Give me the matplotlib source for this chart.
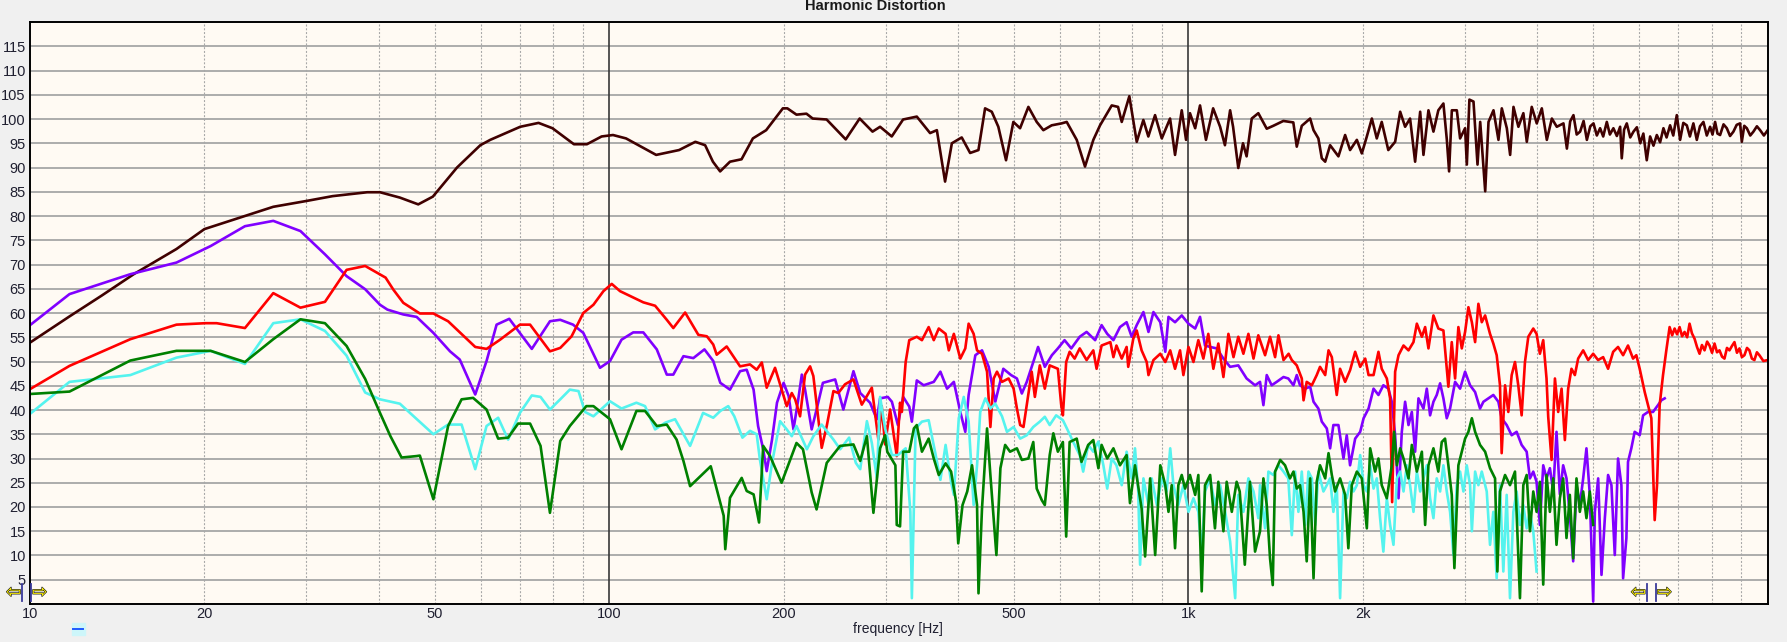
import matplotlib
matplotlib.use("Agg")
import matplotlib.pyplot as plt
import matplotlib.patheffects as pe
from matplotlib.patches import Rectangle
from matplotlib.lines import Line2D
from matplotlib.ticker import NullLocator
from matplotlib.transforms import blended_transform_factory, offset_copy

plt.rcParams['font.family'] = ['Liberation Sans', 'DejaVu Sans']

# ---- data (frequency in Hz, level in dB) ----
brown_freq = [10, 11.7, 13.3, 15.1, 17.9, 20, 23.5, 26.3, 30, 33.3, 38.2, 40.2, 43.5, 46.8, 49.6,
              54.6, 59.9, 62.3, 70.2, 75.5, 79.8, 86.9, 91.5, 97, 101.5, 106.9, 120.5, 132, 140.8,
              146.4, 151, 155.4, 161.6, 169.2, 177, 186.6, 199.4, 203, 210.5, 219, 224.5, 237.3,
              256, 270.6, 284.8,
              293.5, 307.4, 321.6, 339.6, 358, 367.8, 380, 390.4, 406, 419.8, 433.9, 445.5, 457.5,
              469.6, 484.2, 498.5, 512, 529.2, 547, 561.6, 580.6, 604, 616.3, 641.3, 662.8, 685.1,
              703.6, 737.1, 755.8, 767, 790.5, 814.1, 835.8, 852.5, 875.6, 899.3, 929.4, 948, 973.6,
              990.4, 1006, 1027, 1047, 1072, 1103, 1134, 1156, 1180, 1194, 1219, 1242, 1260, 1286, 1320,
              1365, 1401, 1458, 1517, 1538, 1569, 1622, 1644, 1676, 1699, 1722, 1756, 1815, 1864, 1901,
              1953, 1992, 2032, 2073, 2114, 2156, 2213, 2274, 2320, 2366, 2413, 2462, 2512, 2545, 2596,
              2648, 2700, 2755, 2793, 2818, 2849, 2906, 2944, 3003, 3024, 3055, 3105, 3155, 3189, 3253,
              3296, 3362, 3429, 3475, 3545, 3592, 3640, 3712, 3786, 3838, 3914, 3993, 4074, 4156, 4240,
              4324, 4440, 4470, 4501, 4560, 4620, 4680, 4744, 4810, 4873, 4940, 5003, 5070, 5136, 5200,
              5275, 5340, 5415, 5490, 5562, 5598, 5650, 5711, 5790, 5865, 5945, 6025, 6100, 6183, 6266,
              6350, 6435, 6520, 6607, 6690, 6784, 6870, 6967, 7060, 7150, 7250, 7340, 7442, 7544, 7640,
              7745, 7850, 7954, 8030, 8113, 8190, 8276, 8390, 8500, 8610, 8726, 8840, 8960, 9022, 9110,
              9204, 9330, 9448, 9580, 9703, 9850, 10000]
brown_db = [53.9, 59.3, 63.6, 68.0, 73.2, 77.3, 80.0, 81.9, 83.1, 84.1, 84.9, 84.9, 83.8, 82.4, 84.0,
            90.0, 94.6, 95.7, 98.4, 99.2, 98.1, 94.8, 94.8, 96.4, 96.7, 96.0, 92.6, 93.6, 95.3,
            94.6, 91.2, 89.2, 91.2, 91.7, 96.0, 97.7, 102.2, 102.2, 100.9, 101.1, 100.1, 99.9,
            95.8, 100.1, 97.4,
            98.4, 96.4, 99.9, 100.5, 97.1, 97.7, 87.1, 95.0, 96.2, 93.0, 93.6, 102.2, 101.5,
            98.4, 91.5, 99.4, 98.1, 102.5, 99.4, 97.7, 98.7, 99.1, 99.4, 95.7, 90.2, 95.7,
            98.7, 102.8, 102.5, 99.4, 104.7, 95.3, 99.8, 96.4, 100.8, 96.0, 100.1, 92.6, 101.8,
            95.7, 101.2, 98.1, 102.8, 95.7, 102.2, 98.4, 94.6, 101.8, 98.4, 89.9, 95.0, 92.3, 100.1, 101.2,
            98.0, 98.6, 99.6, 99.3, 94.3, 98.6, 100.1, 97.7, 96.0, 91.9, 91.2, 94.6, 92.3, 96.7, 93.6,
            95.7, 92.9, 96.4, 100.1, 96.0, 99.4, 93.6, 95.3, 101.5, 98.4, 100.1, 91.2, 101.5, 92.6, 101.8,
            97.4, 101.8, 103.2, 95.7, 89.2, 101.8, 101.8, 96.0, 98.1, 90.6, 104.0, 103.6, 90.6, 99.4, 85.1,
            99.4, 101.8, 95.7, 102.2, 98.1, 92.6, 102.5, 98.4, 101.2, 95.3, 102.5, 99.1, 102.2, 95.7, 100.1,
            98.4, 99.1, 96.5, 93.9, 99.5, 100.8, 96.8, 97.4, 99.6, 95.7, 98.5, 99.1, 96.6, 98.1, 96.4,
            99.4, 96.8, 98.1, 96.5, 98.4, 91.9, 97.8, 99.1, 96.2, 97.4, 98.3, 95.0, 97.0, 91.5, 96.4,
            94.5, 96.7, 95.2, 98.1, 96.2, 98.7, 96.6, 100.8, 95.7, 99.2, 98.7, 96.4, 99.1, 95.7, 98.5,
            99.4, 96.6, 98.4, 96.8, 99.4, 97.0, 96.7, 98.9, 98.1, 96.5, 97.4, 98.8, 99.1, 95.3, 98.6,
            98.1, 96.6, 97.4, 98.5, 97.7, 96.6, 97.7]

red_freq = [10, 11.7, 14.9, 17.9, 20.1, 21, 23.5, 26.3, 29.3, 32.3, 35.2, 37.9, 41.1, 42.4, 44.1,
            47.1, 49.7, 52.7, 58.7, 61.4, 64.8, 70.1, 73, 79, 82.3, 86.1, 90.2, 93.9, 97.7, 101,
            104.4, 114.5, 120, 125.7, 129, 135.2, 142.5, 147.4, 151.2, 153.3, 159.5, 168.2, 175,
            179.7, 183.4, 187, 193.3, 197.2, 202.5, 206.6, 209.4, 213.5, 217.8, 222.2, 225.1, 232.7,
            237.4, 243.8, 248.6, 255.3, 264, 272.9, 284, 291.5, 295.4, 299.4, 305.4, 313.6, 317.7,
            320, 324.9, 329.6, 339.6, 346.6, 356, 363.3, 370.6, 380.8, 385.7, 393.5, 403.7, 411.8,
            417.3, 425.7, 431.5, 440.1, 449, 455, 461, 467.1, 476.5, 489.2, 499, 505.6, 512.2, 519,
            525.8, 536.2, 543, 553.8, 564.9, 576, 595, 603, 607, 615, 623.5, 636, 649, 667, 685, 694,
            708, 733, 742, 751, 767, 782, 787, 803, 814, 830, 847, 853, 870, 894, 912, 930, 948, 967,
            980, 1000, 1020, 1040, 1061, 1082, 1104, 1126, 1149, 1172, 1196, 1219, 1244, 1269, 1295, 1320,
            1356, 1383, 1411, 1430, 1459, 1489, 1508, 1538, 1569, 1580, 1600, 1633, 1665, 1687, 1722,
            1745, 1768, 1803, 1827, 1864, 1901, 1940, 1979, 2019, 2046, 2087, 2128, 2156, 2200, 2229,
            2247, 2274, 2305, 2351, 2398, 2446, 2479, 2529, 2562, 2596, 2648, 2700, 2755, 2792, 2810,
            2848, 2886, 2924, 2964, 3003, 3043, 3085, 3125, 3166, 3209, 3252, 3316, 3360, 3405, 3450,
            3473, 3520, 3566, 3614, 3662, 3710, 3760, 3810, 3861, 3938, 3990, 4043, 4097, 4151, 4179,
            4235, 4292, 4348, 4407, 4465, 4524, 4584, 4646, 4707, 4802, 4898, 4997, 5095, 5199, 5302,
            5410, 5516, 5628, 5739, 5855, 5932, 6012, 6133, 6214, 6297, 6381, 6440, 6508, 6596, 6683,
            6771, 6840, 6907, 6975, 7045, 7115, 7186, 7260, 7330, 7400, 7477, 7550, 7627, 7700, 7780,
            7860, 7935, 8015, 8095, 8175, 8256, 8340, 8421, 8505, 8590, 8675, 8762, 8850, 8938, 9025,
            9117, 9210, 9299, 9390, 9485, 9580, 9675, 9830, 10000]
red_db = [44.3, 49.1, 54.6, 57.6, 57.9, 57.9, 56.9, 64.1, 61.1, 62.3, 68.9, 69.7, 67.3, 64.8, 62.1,
          59.9, 59.9, 58.3, 53.0, 52.6, 54.5, 57.6, 57.6, 52.1, 52.8, 55.2, 60.0, 61.7, 64.5, 66.0,
          64.5, 62.2, 61.5, 58.6, 56.9, 60.1, 55.5, 55.2, 53.5, 51.4, 53.1, 49.0, 49.4,
          48.3, 49.8, 44.6, 48.7, 45.3, 40.8, 43.5, 42.2, 38.7, 47.3, 49.0, 47.0, 32.2,
          36.7, 43.9, 43.5, 45.3, 46.3, 41.1, 44.6, 33.9, 40.8, 32.9, 40.1, 30.5, 41.5,
          39.6, 49.9, 54.4, 55.1, 54.4, 57.1, 54.4, 56.8, 55.7, 52.3, 55.7, 50.6, 52.7,
          57.8, 55.7, 52.3, 51.6, 47.9, 36.5, 46.5, 47.9, 45.8, 46.5, 44.4, 40.3, 36.9, 36.5,
          41.0, 47.9, 42.7, 49.2, 44.4, 49.2, 48.5, 41.0, 38.9, 49.9, 52.0, 50.6, 52.7, 50.3, 52.3, 48.5,
          53.3, 54.0, 50.9, 53.3, 50.6, 53.0, 48.9, 54.7, 56.4, 52.3, 49.9, 47.2, 50.3, 51.6, 49.9, 52.3, 48.5, 52.3,
          47.2, 53.0, 49.9, 54.4, 50.6, 55.7, 48.5, 53.7, 46.8, 55.7, 50.9, 55.1, 51.6, 55.7, 50.6, 55.4,
          51.3, 55.1, 50.9, 55.4, 50.3, 51.6, 50.3, 49.2, 46.5, 42.0, 45.8, 45.1, 47.2, 48.9, 47.2,
          52.3, 50.9, 43.1, 48.5, 45.8, 48.2, 52.0, 48.9, 50.6, 47.2, 47.2, 52.0, 48.5, 46.5, 42.4,
          21.0, 47.9, 51.3, 53.3, 52.3, 54.0, 57.8, 55.1, 57.1, 52.7, 59.5, 56.8, 56.4, 48.5, 44.8,
          54.0, 46.5, 57.1, 52.7, 56.1, 61.2, 58.1, 54.0, 61.9, 58.1, 59.5, 55.7, 53.7, 51.3, 45.1,
          31.1, 45.1, 39.6, 47.2, 49.9, 45.1, 38.9, 49.9, 55.1, 56.8, 55.7, 51.6, 54.4, 46.5, 38.6,
          29.7, 46.5, 39.6, 44.4, 33.8, 44.4, 48.5, 47.2, 50.6, 52.3, 50.3, 51.6, 50.3, 50.9, 48.5,
          52.0, 53.0, 51.3, 53.3, 50.6, 51.3, 48.5, 43.7, 41.0, 38.3, 17.3, 24.5, 41.0, 47.2, 52.3,
          57.1, 55.4, 56.8, 55.6, 57.1, 55.2, 56.1, 55.0, 57.8, 55.8, 54.7, 53.0, 51.6, 53.4, 52.3,
          54.1, 53.3, 51.8, 53.7, 51.9, 52.3, 51.0, 50.6, 52.8, 52.3, 53.2, 54.0, 51.8, 52.7, 50.9,
          51.3, 52.8, 52.3, 50.6, 50.3, 51.9, 51.3, 50.1, 50.3]

purple_freq = [10, 11.7, 14.9, 17.9, 20.5, 23.5, 26.3, 29.3, 32.3, 35.2, 37.9, 40.2, 41.4, 44.1, 46.5,
               49.7, 53.1, 55.2, 58.7, 61.4, 63.9, 67.2, 73.5, 79, 82.3, 86.6, 90.2, 96.4, 100.3, 105,
               110, 114.5, 120.8, 125.7, 129, 134.3, 139.7, 146, 151.2, 155.5, 161.6, 168.2, 172.7,
               177.5, 180.7, 184.4, 187, 191, 194.8, 200, 204, 208, 212, 215, 217.8, 223.6, 228, 233.8,
               245.5, 253.6, 264, 271.2, 282, 289.7,
               293.5, 302.6, 307.6, 315, 321.7, 329.6, 333, 339.6, 349, 363.3, 373, 383, 393.5, 403.7,
               411.8, 417.3, 428.6, 440.1, 452, 464, 479, 494, 505.6, 515.6, 525.8, 539.6, 550, 564.9,
               581, 595, 611, 627.6, 649, 667, 690, 708, 724, 742, 761.6, 782, 798, 814, 836, 853, 870,
               894, 912, 923.6, 948, 973.6, 1000, 1027, 1047, 1068, 1090, 1119, 1149, 1180, 1219, 1260, 1303,
               1329, 1347, 1365, 1392, 1420, 1459, 1487, 1518, 1538, 1558, 1590, 1622, 1644, 1676, 1699,
               1733, 1756, 1779, 1815, 1852, 1876, 1901, 1940, 1979, 2006, 2046, 2087, 2128, 2170, 2214,
               2244, 2274, 2305, 2335, 2366, 2398, 2430, 2462, 2495, 2545, 2579, 2613, 2648, 2683, 2719,
               2755, 2792, 2829, 2886, 2944, 3003, 3063, 3125, 3187, 3230, 3295, 3360, 3428, 3473, 3543,
               3614, 3686, 3760, 3836, 3886, 3938, 3990, 4043, 4097, 4151, 4207, 4263, 4319, 4377, 4435,
               4494, 4554, 4615, 4676, 4739, 4802, 4865, 4930, 4997, 5030, 5097, 5165, 5234, 5302, 5373,
               5445, 5516, 5590, 5628, 5702, 5739, 5815, 5893, 6012, 6094, 6214, 6339, 6465, 6552, 6640]
purple_db = [57.5, 63.9, 68.0, 70.4, 73.8, 77.9, 79.0, 76.9, 72.1, 67.6, 64.9, 61.7, 60.7, 59.7, 59.2,
             55.9, 52.1, 50.4, 43.2, 50.1, 57.6, 58.8, 52.6, 58.3, 58.6, 57.6, 55.9, 48.7, 50.1, 54.5,
             56.0, 56.0, 52.5, 47.3, 47.3, 51.1, 50.7, 52.5, 50.1, 45.6, 44.2, 48.0, 48.3,
             44.2, 36.7, 31.9, 27.4, 33.9, 41.5, 45.6, 42.9, 36.0, 42.2, 47.3, 44.2, 36.0, 40.1, 45.6,
             46.3, 40.1, 48.0, 43.5, 41.5, 38.1,
             42.4, 42.7, 41.7, 36.9, 42.7, 40.7, 37.6, 46.1, 45.1, 45.8, 47.9, 44.4, 45.8, 39.6,
             35.5, 43.1, 51.3, 52.3, 48.9, 41.7, 48.5, 47.2, 46.5, 43.4, 45.8, 49.9, 53.0, 48.9,
             51.3, 52.7, 54.4, 52.7, 55.1, 56.1, 54.4, 57.5, 55.7, 54.4, 57.1, 58.1, 55.1, 57.5, 60.2, 56.1, 60.2,
             58.1, 52.0, 59.2, 58.1, 59.5, 57.8, 56.8, 59.2, 53.3, 53.0, 52.7, 50.6, 48.9, 49.2, 46.5, 45.1,
             45.8, 41.0, 47.2, 45.1, 45.8, 46.8, 46.5, 45.1, 47.2, 45.1, 44.4, 44.8, 41.7, 40.3, 37.6,
             36.2, 32.1, 36.9, 36.9, 30.0, 34.8, 28.6, 34.1, 35.5, 38.3, 40.3, 44.4, 43.1, 45.1, 44.4,
             41.7, 34.8, 21.8, 35.5, 41.7, 36.9, 39.6, 31.4, 42.4, 40.3, 44.4, 38.9, 41.7, 43.1, 45.5,
             42.4, 38.3, 40.3, 45.8, 44.4, 47.9, 45.1, 43.7, 40.3, 41.7, 42.4, 43.1, 41.7, 38.3, 36.9,
             34.8, 35.5, 32.8, 31.4, 25.9, 27.3, 25.2, 16.3, 28.6, 25.9, 28.0, 23.2, 35.5, 22.6, 28.6,
             25.9, 18.4, 8.8, 24.5, 20.4, 25.9, 32.1, 22.6, 0.5, 19.0, 25.9, 6.0, 17.7, 26.6, 24.5,
             10.1, 30.0, 24.5, 5.3, 13.6, 29.3, 32.1, 35.5, 34.8, 38.9, 39.6, 39.6, 41.0, 42.0, 42.4]

green_freq = [10, 11.7, 14.9, 17.9, 20.5, 23.5, 26.3, 29.3, 32.3, 35.2, 37.9, 40.2, 41.9, 43.8, 46.5,
              47.1, 49.7, 52.7, 55.6, 58.2, 61.4, 64.3, 66.9, 69.6, 73, 76.1, 79, 82.3, 85.5, 91.3,
              93.9, 100.3, 105, 111.4, 115.3, 120.8, 125.7, 130.7, 134.3, 137.9, 149.7, 157.6, 158.6,
              161.6, 169.3, 172.7, 177.5, 181.4, 184.4, 189.5, 198.4, 210.5, 216, 223.6, 228, 237.4,
              250.4, 264, 271.2, 278.5, 285.8,
              293.5, 299.4, 302, 311.9, 313.6, 317.7, 321.7, 329.6, 335.7, 339.6, 346.6, 356, 363.3,
              370.6, 380.8, 389.2, 397, 400.4, 407.3, 415, 423, 431.5, 434, 440.1, 449, 455, 466,
              473.5, 482.5, 492, 505.6, 515.6, 529.2, 539.6, 547, 558.2, 564.9, 576, 584.4, 595, 607,
              615, 623.5, 641.3, 653.6, 671.3, 685, 699, 708, 724, 742, 761.6, 782, 792.5, 808.5, 830,
              841.6, 858.7, 876, 894, 912, 923.6, 935.5, 948, 960.5, 973.6, 986.6, 1006, 1027, 1040,
              1054, 1068, 1090, 1111, 1126, 1149, 1164, 1188, 1211, 1226, 1251, 1277, 1303,
              1329, 1347, 1365, 1383, 1398, 1411, 1440, 1468, 1497, 1518, 1538, 1558, 1580, 1600, 1622,
              1644, 1665, 1687, 1722, 1745, 1768, 1791, 1827, 1864, 1888, 1914, 1953, 1992, 2032, 2059,
              2100, 2128, 2156, 2200, 2244, 2265, 2290, 2320, 2351, 2398, 2430, 2479, 2529, 2562, 2596,
              2648, 2700, 2737, 2773, 2810, 2848, 2878, 2924, 2964, 3003, 3043, 3085, 3125, 3187, 3252,
              3316, 3383, 3414, 3450, 3520, 3590, 3662, 3735, 3785, 3836, 3886, 3938, 3990, 4043, 4097,
              4151, 4207, 4263, 4319, 4377, 4435, 4494, 4554, 4615, 4676, 4739, 4802, 4865, 4930, 4997]
green_db = [43.3, 43.8, 50.2, 52.2, 52.2, 49.9, 54.6, 58.7, 57.9, 53.2, 46.4, 39.4, 34.6, 30.2, 30.5,
            30.6, 21.6, 36.7, 42.2, 42.5, 40.1, 34.1, 34.3, 37.2, 37.2, 32.6, 18.8, 33.6, 36.7, 40.8,
            40.8, 38.1, 31.9, 39.8, 39.8, 36.7, 37.0, 33.9, 29.5, 24.3, 28.4, 18.2, 11.3,
            21.9, 26.0, 23.3, 22.6, 16.8, 32.6, 30.5, 25.0, 33.2, 31.9, 23.0, 19.5, 29.1,
            32.6, 32.9, 29.5, 34.6, 18.8,
            32.1, 34.8, 31.4, 28.6, 16.3, 16.0, 31.4, 31.4, 36.2, 36.9, 31.4, 34.1, 30.0,
            26.6, 29.0, 27.3, 21.1, 12.5, 20.4, 23.2, 28.6, 20.4, 2.2, 19.7, 36.2, 26.6, 10.1,
            28.0, 32.8, 31.4, 32.1, 29.7, 30.0, 33.4, 23.8, 21.4, 20.4, 30.7, 35.2, 31.4, 33.4,
            13.9, 33.4, 34.1, 29.3, 32.8, 33.8, 28.0, 32.8, 30.0, 32.1, 28.6, 30.7, 20.8, 28.6, 19.7,
            9.8, 25.9, 10.1, 28.6, 24.5, 19.0, 24.5, 11.5, 24.5, 26.6, 23.8, 26.6, 22.5, 26.6,
            2.6, 24.5, 26.6, 15.6, 25.2, 15.0, 25.2, 19.0, 25.2, 23.2, 8.1, 25.2, 10.8,
            15.0, 25.9, 20.4, 9.4, 3.9, 27.3, 29.7, 28.6, 25.9, 27.3, 23.8, 24.5, 19.0, 8.8, 25.9,
            5.3, 25.2, 28.6, 25.9, 31.1, 26.6, 23.2, 25.9, 22.5, 11.5, 24.5, 27.3, 25.9, 15.6, 32.1,
            27.3, 30.0, 24.5, 21.8, 28.6, 35.5, 28.6, 32.1, 30.0, 25.9, 32.8, 27.3, 31.4, 16.3, 28.6,
            32.1, 27.3, 33.4, 34.1, 28.6, 22.5, 7.4, 28.6, 31.4, 34.1, 35.5, 38.3, 35.5, 32.8, 31.4,
            28.0, 25.9, 6.7, 23.2, 26.6, 24.5, 27.3, 1.2, 24.5, 26.6, 15.0, 23.2, 19.0, 25.2, 4.0,
            26.6, 19.0, 25.9, 12.2, 21.8, 25.9, 13.6, 22.5, 9.4, 25.9, 19.0, 23.2, 17.7, 23.2, 16.3]

cyan_freq = [10, 11.7, 14.9, 17.9, 20.5, 23.5, 26.3, 29.3, 32.3, 35.2, 37.9, 40.2, 43.5, 49.7, 52.7,
             55.6, 58.7, 61.4, 64.3, 66.9, 70.1, 73.5, 76.1, 79, 82.3, 85.5, 88.5, 90.8, 93.9, 100.3,
             105, 111.4, 115.3, 120, 125, 129.9, 137.9, 145.2, 151.2, 155.5, 160.5, 164.4, 169.8,
             175, 179.7, 182, 187, 191, 197.2, 202.5, 206.6, 210.5, 219.4, 225.1, 232.7, 243.8,
             250.4, 259.5, 266.5, 271.2, 278.5, 284, 289.7,
             293.5, 299.4, 307.6, 315, 324.9, 331, 333, 338, 346.6, 356, 365.7, 373, 380.8, 389.2,
             393.5, 401.3, 409.3, 417.3, 425.7, 431.5, 437, 446, 455, 464, 476.5, 486, 499, 512.2,
             525.8, 539.6, 553.8, 564.9, 576, 591, 607, 619, 632, 649, 658, 671.3, 685, 699, 713, 724,
             737, 751, 767, 782, 798, 808.5, 819, 825, 836, 853, 864, 882, 899, 917, 930, 942, 960.5,
             980, 1000, 1020, 1040, 1054, 1068, 1090, 1111, 1134, 1157, 1180, 1204, 1219, 1244, 1269,
             1295, 1320,
             1329, 1356, 1374, 1401, 1430, 1459, 1487, 1508, 1528, 1548, 1569, 1590, 1611, 1633, 1655,
             1676, 1710, 1733, 1756, 1779, 1803, 1827, 1852, 1876, 1901, 1927, 1953, 1979, 2006, 2032,
             2059, 2087, 2114, 2142, 2170, 2200, 2229, 2259, 2290, 2320, 2351, 2382, 2413, 2446, 2479,
             2512, 2545, 2579, 2613, 2648, 2683, 2719, 2755, 2792, 2829, 2867, 2905, 2944, 2983, 3023,
             3063, 3085, 3125, 3166, 3209, 3273, 3316, 3360, 3405, 3450, 3496, 3543, 3590, 3638, 3686,
             3735, 3785, 3836, 3886, 3938, 3990]
cyan_db = [39.2, 45.8, 47.2, 50.8, 52.2, 49.5, 57.9, 58.7, 56.3, 51.2, 43.6, 42.2, 41.3, 35.0, 37.0,
           37.0, 27.8, 36.7, 38.4, 33.9, 39.4, 43.0, 42.7, 40.1, 42.2, 44.2, 43.9, 39.6, 38.7, 41.8,
           40.3, 41.5, 40.8, 36.0, 37.4, 38.1, 32.6, 39.4, 38.4, 39.8, 40.8, 38.7, 34.3,
           35.7, 35.0, 29.8, 21.6, 29.1, 37.7, 36.0, 34.6, 36.7, 31.9, 34.6, 37.0, 33.9,
           31.9, 34.3, 29.1, 27.8, 37.7, 33.2, 26.0,
           42.7, 36.2, 30.7, 30.7, 32.1, 19.0, 1.2, 36.2, 37.6, 37.9, 31.0, 25.6, 32.8, 25.2,
           22.5, 38.3, 42.7, 37.6, 20.4, 28.6, 39.6, 42.4, 40.3, 41.3, 38.7, 35.5, 36.5, 34.1,
           34.8, 36.5, 37.6, 38.6, 36.9, 38.9, 37.9, 35.8, 33.5, 30.7, 27.3, 32.8, 31.4, 33.5, 28.6, 23.8,
           30.0, 28.6, 24.5, 31.4, 25.9, 32.1, 23.2, 8.1, 25.9, 20.4, 25.9, 20.4, 25.9, 23.2, 32.1, 24.5, 20.4,
           24.5, 19.0, 21.8, 19.0, 10.1, 23.2, 25.9, 20.4, 24.5, 19.0, 12.9, 1.2, 22.5, 19.0, 25.9,
           23.2, 17.7,
           24.5, 15.6, 27.3, 26.6, 28.6, 27.3, 25.9, 14.2, 27.3, 19.0, 27.3, 16.3, 27.3, 25.9, 16.3,
           27.3, 23.2, 24.5, 25.9, 19.0, 24.5, 1.2, 23.2, 21.8, 25.2, 23.2, 24.5, 30.7, 24.5, 23.2,
           28.6, 23.8, 25.9, 17.7, 10.8, 21.8, 16.3, 12.2, 25.9, 27.3, 23.2, 28.6, 24.5, 19.0, 27.3,
           23.2, 25.9, 28.6, 21.8, 17.7, 25.9, 23.2, 28.6, 23.2, 19.0, 10.1, 24.5, 27.3, 23.2, 28.6,
           24.5, 15.0, 27.3, 24.5, 27.3, 23.2, 12.2, 19.0, 5.3, 24.5, 6.7, 22.5, 1.2, 19.0, 23.2,
           16.3, 20.4, 15.6, 19.0, 15.0, 6.7]

x_ticks = [10, 20, 50, 100, 200, 500, 1000, 2000]
x_tick_labels = ['10', '20', '50', '100', '200', '500', '1k', '2k']
y_ticks = list(range(5, 120, 5))
cursor_freqs = [9.87, 6300]

series = [
    (brown_freq, brown_db, '#400000'),
    (purple_freq, purple_db, '#8000ff'),
    (red_freq, red_db, '#ff0000'),
    (cyan_freq, cyan_db, '#55f3ee'),
    (green_freq, green_db, '#008000'),
]

TEXT_COLOR = '#1f1f30'

fig = plt.figure(figsize=(17.87, 6.42), dpi=100, facecolor='#f0f0f0')
ax = fig.add_axes([0.0168, 0.0592, 0.9724, 0.9065])
ax.set_facecolor('#fffaf3')
ax.set_xscale('log')
ax.set_xlim(10, 10000)
ax.set_ylim(0, 120)

# grid: solid horizontal every 5 dB, dashed minor decades, solid decades
for y in y_ticks:
    ax.axhline(y, color='#a6a6a6', lw=1.3, zorder=1)
for dec in (10, 100, 1000):
    for m in range(2, 10):
        ax.axvline(m * dec, color='#a8a8a8', lw=0.8, ls=(0, (1.8, 1.6)), zorder=1)
for f in (100, 1000):
    ax.axvline(f, color='#383838', lw=1.2, zorder=1)

for i, (f, v, c) in enumerate(series):
    n = min(len(f), len(v))
    if len(f) != len(v):
        print('length mismatch', c, len(f), len(v))
    ax.plot(f[:n], v[:n], color=c, lw=1.9, zorder=2 + i, solid_joinstyle='round')

ax.set_xticks(x_ticks, x_tick_labels)
ax.xaxis.set_minor_locator(NullLocator())
ax.set_yticks(y_ticks)
ax.tick_params(length=0, labelsize=10.5, labelcolor=TEXT_COLOR)
ax.tick_params(axis='x', pad=2.5)
ax.tick_params(axis='y', pad=3)
for s in ax.spines.values():
    s.set_color('black')
    s.set_linewidth(1.4)
    s.set_zorder(10)

fig.text(0.4897, 0.990, 'Harmonic Distortion', ha='center', va='center',
         fontsize=10.5, fontweight='bold', color='#1a1a1a')
fig.text(0.5025, 0.0202, 'frequency [Hz]', ha='center', va='center',
         fontsize=10, color=TEXT_COLOR)

# cursor markers at the bottom of the plot
trans = blended_transform_factory(ax.transData, ax.transAxes)
arrow_fx = [pe.withStroke(linewidth=0.9, foreground='#202020')]
for cf in cursor_freqs:
    for dx in (-4.5, 4.5):
        ax.plot([cf, cf], [0.006, 0.034], color='#3a3a9a', lw=1.3, clip_on=False, zorder=11,
                transform=offset_copy(trans, fig=fig, x=dx, y=0, units='dots'))
    ax.text(cf, 0.019, '\u21e6', ha='right', va='center', fontsize=13, color='#fff200',
            path_effects=arrow_fx, clip_on=False, zorder=11,
            transform=offset_copy(trans, fig=fig, x=-5.5, y=0, units='dots'))
    ax.text(cf, 0.019, '\u21e8', ha='left', va='center', fontsize=13, color='#fff200',
            path_effects=arrow_fx, clip_on=False, zorder=11,
            transform=offset_copy(trans, fig=fig, x=5.5, y=0, units='dots'))

# small legend swatch under the axis
fig.patches.append(Rectangle((72 / 1787, 1 - 635 / 642), 13 / 1787, 12 / 642,
                             transform=fig.transFigure, color='#cdf6fa', zorder=0))
fig.lines.append(Line2D([73 / 1787, 83 / 1787], [1 - 629 / 642, 1 - 629 / 642],
                        transform=fig.transFigure, color='#1e5aff', lw=1.4))

fig.savefig('out.png', dpi=100, facecolor=fig.get_facecolor())
